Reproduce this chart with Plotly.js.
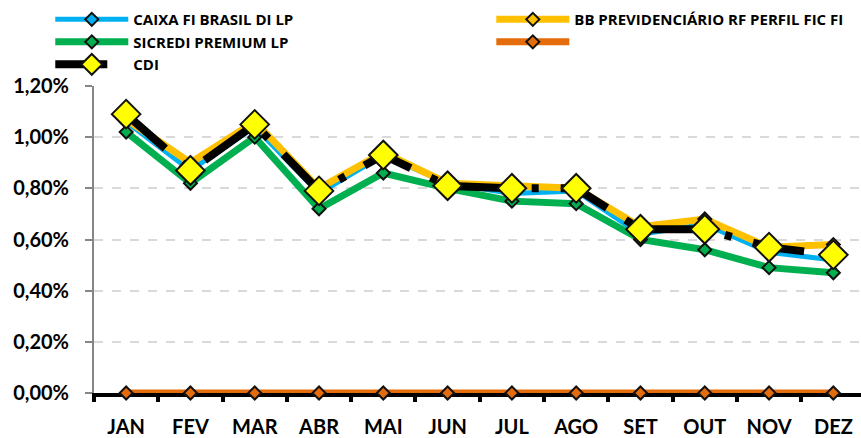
<!DOCTYPE html>
<html>
<head>
<meta charset="utf-8">
<script src="https://cdn.plot.ly/plotly-3.0.1.min.js"></script>
<style>html,body{margin:0;padding:0;background:#fff;}#chart{width:861px;height:438px;}</style>
</head>
<body>
<div id="chart"></div>
<script>
const months = ["JAN","FEV","MAR","ABR","MAI","JUN","JUL","AGO","SET","OUT","NOV","DEZ"];
const caixa = [1.06, 0.87, 1.04, 0.78, 0.93, 0.82, 0.78, 0.79, 0.62, 0.66, 0.55, 0.52];
const bb = [1.07, 0.90, 1.06, 0.80, 0.94, 0.82, 0.81, 0.80, 0.65, 0.68, 0.57, 0.58];
const sicredi = [1.02, 0.82, 1.00, 0.72, 0.86, 0.80, 0.75, 0.74, 0.60, 0.56, 0.49, 0.47];
const zeroSeries = [0, 0, 0, 0, 0, 0, 0, 0, 0, 0, 0, 0];
const cdi = [1.09, 0.87, 1.05, 0.79, 0.93, 0.81, 0.80, 0.80, 0.64, 0.64, 0.57, 0.54];
const yTicks = [0, 0.2, 0.4, 0.6, 0.8, 1.0, 1.2];
const yTickLabels = ["0,00%", "0,20%", "0,40%", "0,60%", "0,80%", "1,00%", "1,20%"];

const FONT = "Lato, 'Open Sans', sans-serif";
const LFONT = "'Open Sans', Lato, sans-serif";
function smallMarker(c){return {symbol:'diamond', size:10, color:c, line:{color:'#111', width:2}};}

const traces = [
  {x:months, y:caixa, name:'CAIXA FI BRASIL DI LP', type:'scatter', mode:'lines+markers',
   line:{color:'#00B0F0', width:5}, marker:smallMarker('#00B0F0'), cliponaxis:false, legend:'legend'},
  {x:months, y:bb, name:'BB PREVIDENCIÁRIO RF PERFIL FIC FI', type:'scatter', mode:'lines+markers',
   line:{color:'#FFC000', width:7}, marker:smallMarker('#FFC000'), cliponaxis:false, legend:'legend2'},
  {x:months, y:sicredi, name:'SICREDI PREMIUM LP', type:'scatter', mode:'lines+markers',
   line:{color:'#00B050', width:7}, marker:smallMarker('#00B050'), cliponaxis:false, legend:'legend'},
  {x:months, y:zeroSeries, name:' ', type:'scatter', mode:'lines+markers',
   line:{color:'#E46C0A', width:7}, marker:smallMarker('#E46C0A'), cliponaxis:false, legend:'legend2'},
  {x:months, y:cdi, name:'CDI', type:'scatter', mode:'lines+markers',
   line:{color:'#000', width:8, dash:'52px,22px,7px,22px'},
   marker:{symbol:'diamond', size:22, color:'#FFFF00', line:{color:'#111', width:2}}, cliponaxis:false, legend:'legend'}
];

const legendCommon = {orientation:'v', bgcolor:'rgba(0,0,0,0)', borderwidth:0,
  font:{family:LFONT, size:15, weight:'bold', color:'#000'}, itemwidth:73, tracegroupgap:0,
  traceorder:'normal', xanchor:'left', yanchor:'top'};

const layout = {
  width:861, height:438,
  margin:{l:94, r:0, t:86, b:45, pad:0},
  paper_bgcolor:'#fff', plot_bgcolor:'#fff',
  font:{family:FONT, color:'#000'},
  showlegend:true,
  legend:Object.assign({}, legendCommon, {x:-0.057, y:1.27}),
  legend2:Object.assign({}, legendCommon, {x:0.518, y:1.27}),
  xaxis:{type:'category', range:[-0.5, 11.43], tickson:'boundaries', ticks:'outside', ticklen:5, tickwidth:4,
    tickcolor:'#000', showline:true, linecolor:'#000', linewidth:4, showgrid:false, zeroline:false,
    ticklabelstandoff:13,
    tickfont:{family:FONT, size:20, weight:'bold', color:'#000'}, layer:'below traces', fixedrange:true},
  yaxis:{range:[0,1.2], tickvals:yTicks, ticktext:yTickLabels, showgrid:true, gridcolor:'#d9d9d9',
    griddash:'dash', gridwidth:2, showline:true, linecolor:'#868686', linewidth:2, ticks:'outside', ticklen:7,
    tickwidth:2, tickcolor:'#868686', zeroline:false, layer:'below traces', ticklabelstandoff:12,
    tickfont:{family:FONT, size:20, weight:'bold', color:'#000'}, fixedrange:true}
};

Plotly.newPlot('chart', traces, layout, {displayModeBar:false, staticPlot:true});
</script>
</body>
</html>
